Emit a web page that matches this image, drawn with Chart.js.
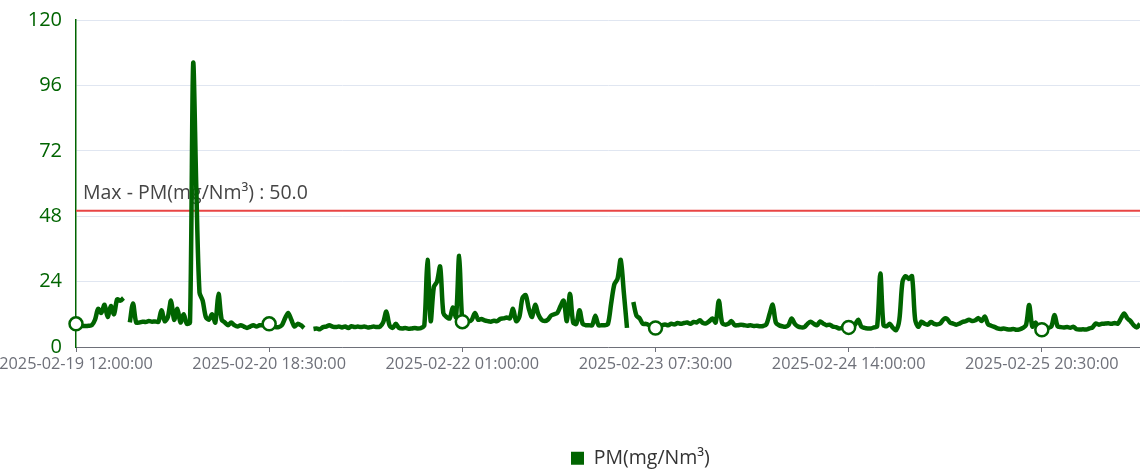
<!DOCTYPE html>
<html>
<head>
<meta charset="utf-8">
<script src="https://cdn.jsdelivr.net/npm/chart.js@4/dist/chart.umd.min.js"></script>
<style>
  html, body { margin: 0; padding: 0; background: #fff; }
  #wrap { width: 1140px; height: 473px; }
</style>
</head>
<body>
<div id="wrap"><canvas id="chart"></canvas></div>
<script>
// half-hourly readings, 2025-02-19 12:00 -> 2025-02-26 12:00
const START = { y: 2025, m: 2, d: 19, h: 12, min: 0 };
const STEP_MINUTES = 30;
const seriesName = 'PM(mg/Nm³)';
const maxLimit = 50;

const tickIndexes = [0, 61, 122, 183, 244, 305];
const tickLabels = [
  '2025-02-19 12:00:00',
  '2025-02-20 18:30:00',
  '2025-02-22 01:00:00',
  '2025-02-23 07:30:00',
  '2025-02-24 14:00:00',
  '2025-02-25 20:30:00'
];
const yTicks = [0, 24, 48, 72, 96, 120];

const pmValues = [
  8.5, 7.7, 7.7, 7.7, 7.8, 8.0, 10, 14, 12.5, 15.5,
  11, 15, 12, 17.5, 17, 18, null, 9, 16, 9,
  9, 9.3, 9.2, 9.5, 9.3, 9.4, 9.2, 13.5, 9.5, 11,
  17, 10, 14, 9, 12, 8.5, 9, 104, 58, 20,
  17, 11, 10, 12, 9, 19.5, 10, 9, 8, 9,
  8, 7.5, 8, 7.5, 7, 7.5, 8, 7.5, 8, 8,
  8.3, 8.5, 8, 7.3, 7.3, 8, 10.5, 12.5, 10, 7.5,
  8.5, 8, 7, null, null, 6.6, 6.8, 6.5, 7.3, 7.5,
  8, 7.5, 7.3, 7.5, 7.2, 7.5, 7, 7.6, 7.3, 7.5,
  7.3, 7.5, 7.2, 7.3, 7.5, 7.3, 7.5, 9, 13, 8,
  7, 8.5, 7, 6.8, 7, 6.7, 6.8, 7, 6.8, 7,
  8, 32, 9.5, 22, 24, 29.5, 12.5, 11, 10.5, 14.5,
  11, 33.5, 9.3, 9.5, 9.3, 10, 12.5, 10, 10.3, 9.8,
  9.5, 9.3, 9.6, 9.5, 10.3, 10.5, 10.8, 10.5, 14, 9.5,
  11, 18, 19, 14, 11, 15.5, 12, 10, 9.5, 10,
  11.5, 12, 12.5, 15, 17, 9.5, 19.5, 9, 8.5, 13.5,
  8.5, 8, 8, 8, 11.5, 8, 8, 8, 8.5, 16,
  23, 25, 32, 20, 7, null, 16.5, 11.5, 10.5, 8.5,
  8.5, 8, 7.5, 7, 7.5, 8, 8.3, 8, 8.5, 8.3,
  8.8, 8.5, 8.8, 9, 8.5, 9.2, 9, 9.8, 8.8, 8.7,
  9.5, 10.5, 9, 17, 9, 8.2, 8.5, 9.5, 8, 8,
  8.2, 8, 7.8, 8, 7.7, 7.8, 7.6, 7.7, 8.3, 12,
  15.5, 9, 8, 7.6, 7.4, 8, 10.5, 8.5, 7.5, 7.2,
  7.3, 8.5, 9.3, 8.5, 8, 9.4, 8.6, 8, 8.2, 7.5,
  7.3, 6.8, 7, 7.2, 7.2, 7.6, 8.2, 10, 7.5, 7,
  6.8, 6.8, 7.2, 7.6, 27, 8, 7.6, 8.5, 7, 6.2,
  10, 24, 26, 25, 26, 10, 7.4, 9.3, 8.5, 8.2,
  9.2, 8.5, 8.3, 8.7, 10.2, 10.4, 9, 8.6, 8.2, 8.6,
  9.2, 9.5, 10, 9.5, 9.8, 10.6, 9.5, 11.2, 8.4, 7.8,
  7.4, 6.8, 6.6, 6.8, 6.5, 6.4, 6.6, 6.3, 6.5, 7,
  8, 15.4, 7.5, 9, 7, 6.3, 6.6, 7, 7.5, 11.7,
  7.5, 7.3, 7.2, 7.3, 7.1, 7.4, 6.5, 6.4, 6.5, 6.4,
  6.8, 7.2, 8.6, 8.2, 8.5, 8.6, 8.7, 8.5, 8.8, 8.6,
  10.5, 12.3, 10.5, 9.5, 8, 7.2, 8.5
];

const pad = n => String(n).padStart(2, '0');
const categories = pmValues.map((_, i) => {
  const t = new Date(START.y, START.m - 1, START.d, START.h, START.min + i * STEP_MINUTES);
  return `${t.getFullYear()}-${pad(t.getMonth() + 1)}-${pad(t.getDate())} ${pad(t.getHours())}:${pad(t.getMinutes())}:00`;
});

const GREEN = '#006400';
const FONT = "'Open Sans', sans-serif";

// red limit line + its caption, drawn under the series
const limitLine = {
  id: 'limitLine',
  beforeDatasetsDraw(chart) {
    const { ctx, chartArea, scales } = chart;
    const y = scales.y.getPixelForValue(maxLimit);
    ctx.save();
    ctx.strokeStyle = '#e84545';
    ctx.lineWidth = 2;
    ctx.beginPath();
    ctx.moveTo(chartArea.left, y);
    ctx.lineTo(chartArea.right, y);
    ctx.stroke();
    ctx.fillStyle = '#454545';
    ctx.font = `19.5px ${FONT}`;
    ctx.textBaseline = 'alphabetic';
    ctx.fillText(`Max - ${seriesName} : ${maxLimit.toFixed(1)}`, chartArea.left + 7, y - 12);
    ctx.restore();
  }
};

// in the original the legend item starts at the middle of the canvas
const legendShift = {
  id: 'legendShift',
  afterLayout(chart) {
    const lg = chart.legend;
    const p = lg.options.labels.padding;
    const cur = (lg.left + p + lg.right - lg.lineWidths[0]) / 2;
    const dx = chart.width / 2 + 1 - cur;
    lg.left += dx;
    lg.right += dx;
  }
};

new Chart(document.getElementById('chart'), {
  type: 'line',
  data: {
    labels: categories,
    datasets: [{
      label: seriesName,
      data: pmValues,
      borderColor: GREEN,
      backgroundColor: GREEN,
      borderWidth: 4.5,
      tension: 0.3,
      spanGaps: false,
      clip: false,
      pointRadius: ctx => tickIndexes.includes(ctx.dataIndex) ? 6.5 : 0,
      pointBackgroundColor: '#fff',
      pointBorderColor: GREEN,
      pointBorderWidth: 2.5,
    }],
  },
  options: {
    responsive: true,
    maintainAspectRatio: false,
    animation: false,
    layout: { autoPadding: false, padding: { top: 20, left: 0, right: 0, bottom: -5 } },
    plugins: {
      legend: {
        position: 'bottom',
        labels: {
          boxWidth: 13,
          boxHeight: 13,
          padding: 10,
          color: '#333',
          font: { family: FONT, size: 19.5 },
          generateLabels: chart => Chart.defaults.plugins.legend.labels.generateLabels(chart)
            .map(l => ({ ...l, lineWidth: 0, fillStyle: GREEN })),
        },
      },
      tooltip: { enabled: false },
    },
    scales: {
      x: {
        offset: false,
        afterBuildTicks: scale => {
          scale.ticks = scale.ticks.filter(t => tickIndexes.includes(t.value));
        },
        afterFit: scale => {
          scale.paddingLeft = 0;
          scale.paddingRight = 0;
          scale.height = 91.5;
        },
        ticks: {
          autoSkip: false,
          maxRotation: 0,
          minRotation: 0,
          padding: 3,
          color: '#6E7079',
          font: { family: FONT, size: 16.3 },
          callback: (value, index) => tickLabels[index],
        },
        grid: {
          drawOnChartArea: false,
          drawTicks: true,
          tickLength: 5,
          color: '#6E7079',
        },
        border: { color: '#6E7079', width: 1 },
      },
      y: {
        min: 0,
        max: 120,
        afterBuildTicks: scale => {
          scale.ticks = yTicks.map(v => ({ value: v }));
        },
        afterFit: scale => {
          scale.width = 76;
          scale.paddingTop = 0;
        },
        ticks: {
          padding: 14,
          color: GREEN,
          font: { family: FONT, size: 20 },
        },
        grid: {
          color: '#E0E6F1',
          drawTicks: false,
        },
        border: { color: GREEN, width: 1.5 },
      },
    },
  },
  plugins: [limitLine, legendShift],
});
</script>
</body>
</html>
